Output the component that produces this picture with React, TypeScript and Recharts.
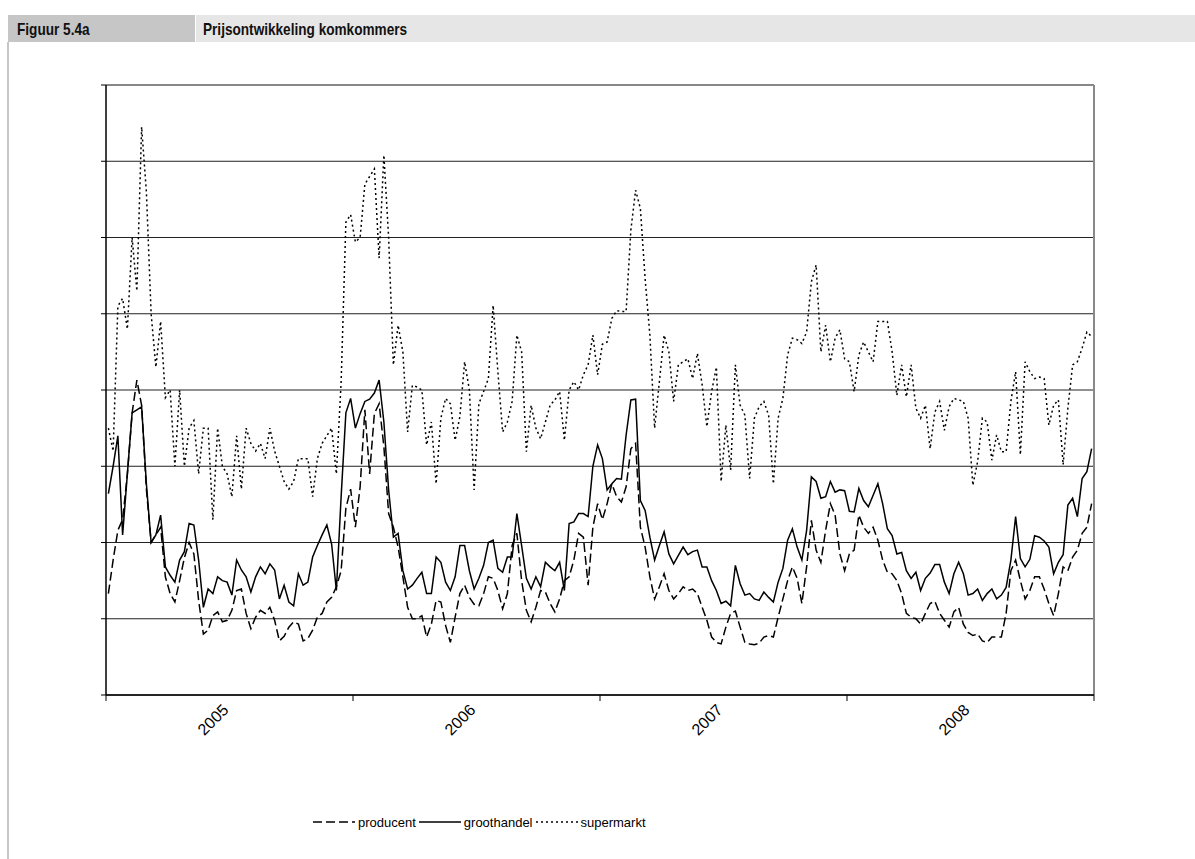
import { LineChart, Line, XAxis, YAxis, ReferenceLine } from "recharts";

// wekelijkse prijzen (euro per stuk), 2005 t/m 2008
const years = ["2005", "2006", "2007", "2008"];
const yTicks = [0, 0.1, 0.2, 0.3, 0.4, 0.5, 0.6, 0.7, 0.8];

const producent = [
  // 2005
  .133, .177, .216, .23, .29, .37, .413, .38, .27, .20, .21, .22, .155, .133, .122, .15, .18, .20, .185, .124, .08, .085, .104, .109, .096, .098,
  .111, .137, .139, .107, .087, .102, .111, .107, .115, .098, .071, .077, .089, .096, .093, .071, .074, .085, .102, .107, .122, .128, .142, .163, .245, .27,
  // 2006
  .22, .273, .374, .29, .369, .382, .326, .238, .22, .194, .155, .115, .10, .10, .104, .076, .093, .124, .122, .091, .069, .102, .133, .144, .128, .119,
  .117, .133, .155, .153, .137, .113, .133, .196, .212, .15, .111, .096, .115, .137, .135, .12, .109, .126, .15, .155, .177, .212, .207, .144, .22, .251,
  // 2007
  .23, .251, .277, .26, .253, .273, .323, .33, .22, .194, .155, .126, .142, .159, .137, .126, .133, .142, .137, .139, .133, .115, .098, .076, .069, .067,
  .089, .107, .11, .089, .069, .067, .066, .068, .076, .078, .076, .102, .126, .15, .168, .153, .12, .168, .229, .19, .174, .216, .251, .236, .185, .163,
  // 2008
  .185, .19, .236, .22, .212, .22, .203, .177, .161, .159, .15, .133, .107, .102, .10, .093, .107, .12, .123, .107, .098, .089, .109, .115, .093, .082,
  .078, .08, .071, .069, .076, .076, .076, .107, .163, .177, .15, .126, .137, .155, .155, .139, .12, .104, .133, .168, .163, .181, .19, .212, .22, .251,
];

const groothandel = [
  // 2005
  .264, .30, .34, .21, .29, .37, .374, .378, .277, .20, .21, .236, .168, .157, .148, .177, .188, .225, .223, .177, .115, .139, .133, .155, .15, .148,
  .131, .177, .164, .155, .135, .155, .168, .159, .172, .164, .126, .144, .122, .117, .159, .144, .148, .181, .196, .21, .223, .198, .137, .26, .37, .389,
  // 2006
  .35, .369, .385, .388, .396, .413, .358, .269, .207, .212, .163, .139, .144, .153, .161, .133, .133, .181, .174, .148, .137, .155, .196, .196, .163, .139,
  .153, .17, .20, .203, .166, .161, .181, .181, .238, .196, .153, .139, .155, .142, .174, .168, .163, .174, .137, .225, .227, .238, .238, .234, .30, .328,
  // 2007
  .31, .269, .277, .284, .283, .341, .387, .388, .255, .242, .207, .177, .196, .214, .185, .172, .183, .194, .184, .188, .19, .168, .168, .15, .137, .12,
  .123, .117, .17, .146, .131, .133, .126, .124, .135, .128, .122, .148, .166, .203, .218, .194, .177, .216, .286, .28, .258, .26, .28, .266, .269, .268,
  // 2008
  .241, .24, .271, .255, .247, .262, .277, .251, .218, .209, .185, .187, .163, .153, .161, .137, .153, .16, .171, .171, .148, .133, .159, .174, .159, .131,
  .133, .139, .124, .133, .139, .126, .131, .141, .177, .234, .179, .168, .178, .209, .207, .202, .194, .159, .174, .184, .249, .258, .234, .284, .293, .323,
];

const supermarkt = [
  // 2005
  .35, .32, .51, .52, .48, .60, .53, .745, .66, .50, .43, .49, .39, .40, .30, .40, .30, .35, .36, .29, .35, .35, .23, .35, .30, .29,
  .26, .34, .27, .35, .33, .32, .33, .31, .35, .32, .30, .28, .27, .28, .31, .31, .31, .26, .31, .33, .34, .35, .29, .41, .62, .63,
  // 2006
  .594, .60, .67, .68, .69, .573, .708, .60, .433, .485, .45, .345, .406, .404, .40, .328, .358, .277, .363, .389, .382, .334, .365, .437, .40, .269,
  .382, .398, .415, .511, .424, .345, .358, .385, .472, .45, .319, .38, .35, .336, .358, .38, .387, .398, .334, .40, .411, .40, .42, .433, .472, .42,
  // 2007
  .46, .463, .494, .504, .503, .503, .61, .662, .638, .546, .472, .35, .411, .472, .45, .385, .433, .437, .441, .415, .448, .407, .352, .398, .43, .28,
  .354, .295, .433, .38, .367, .284, .363, .378, .385, .367, .277, .363, .389, .446, .468, .466, .461, .476, .542, .564, .45, .485, .437, .468, .479, .441,
  // 2008
  .437, .398, .446, .463, .45, .437, .49, .49, .49, .45, .393, .433, .391, .433, .376, .363, .38, .323, .371, .385, .347, .378, .389, .387, .385, .363,
  .275, .306, .363, .358, .308, .341, .319, .319, .385, .424, .315, .437, .424, .415, .417, .415, .354, .38, .387, .302, .376, .433, .437, .455, .476, .47,
];

const WEEKS = 52;
const data = producent.map((p, i) => ({
  x: i + 0.5,
  producent: p,
  groothandel: groothandel[i],
  supermarkt: supermarkt[i],
}));

const yearTicks = years.map((_, i) => i * WEEKS).concat(years.length * WEEKS);

const PLOT_W = 988;
const HALF_YEAR = PLOT_W / years.length / 2;
const FONT = "'Liberation Sans', Arial, sans-serif";

function YearTick({ x, y, payload }: any) {
  const idx = Math.round(payload.value / WEEKS);
  if (idx >= years.length) return null;
  const tx = x + HALF_YEAR;
  const ty = y + 8;
  return (
    <text
      x={tx}
      y={ty}
      transform={`rotate(-45 ${tx} ${ty})`}
      textAnchor="end"
      fontSize={16}
      fontFamily={FONT}
      fill="#000"
    >
      {years[idx]}
    </text>
  );
}

const legendItems = [
  { name: "producent", dash: "9 4" },
  { name: "groothandel", dash: undefined },
  { name: "supermarkt", dash: "2 3" },
];

const headText = {
  position: "absolute" as const,
  top: 15,
  height: 27,
  lineHeight: "29px",
  fontFamily: FONT,
  fontWeight: 700,
  fontSize: 17,
  color: "#111",
  transform: "scaleX(0.8)",
  transformOrigin: "left center",
  whiteSpace: "nowrap" as const,
};

export default function App() {
  return (
    <div style={{ position: "relative", width: 1195, height: 859, background: "#fff", overflow: "hidden" }}>
      <style>{`body{margin:0}`}</style>

      {/* kop */}
      <div style={{ position: "absolute", left: 8, top: 15, width: 187, height: 27, background: "#c6c6c6" }} />
      <div style={{ position: "absolute", left: 196, top: 15, width: 999, height: 27, background: "#e6e6e6" }} />
      <div style={{ ...headText, left: 17 }}>Figuur 5.4a</div>
      <div style={{ ...headText, left: 203 }}>Prijsontwikkeling komkommers</div>
      <div style={{ position: "absolute", left: 7, top: 42, width: 2, height: 817, background: "#c6c6c6" }} />

      <div style={{ position: "absolute", left: 0, top: 0 }}>
        <LineChart width={1195} height={859} data={data} margin={{ top: 85, right: 101, bottom: 104, left: 96 }}>
          {yTicks.map((v) => (
            <ReferenceLine
              key={v}
              y={v}
              stroke={v === 0.8 ? "#888" : "#222"}
              strokeWidth={v === 0.8 ? 2 : 1}
            />
          ))}
          <ReferenceLine x={years.length * WEEKS} stroke="#888" strokeWidth={2} />
          <XAxis
            type="number"
            dataKey="x"
            domain={[0, years.length * WEEKS]}
            ticks={yearTicks}
            interval={0}
            height={60}
            tickSize={6}
            axisLine={{ stroke: "#000", strokeWidth: 1.5 }}
            tickLine={{ stroke: "#000" }}
            tick={<YearTick />}
          />
          <YAxis
            type="number"
            domain={[0, 0.8]}
            ticks={yTicks}
            interval={0}
            width={10}
            tickSize={5}
            tick={() => null}
            axisLine={{ stroke: "#000", strokeWidth: 1.5 }}
            tickLine={{ stroke: "#000" }}
          />
          <Line
            dataKey="supermarkt"
            stroke="#000"
            strokeWidth={1.5}
            strokeDasharray="2 3"
            dot={false}
            isAnimationActive={false}
          />
          <Line
            dataKey="producent"
            stroke="#000"
            strokeWidth={1.5}
            strokeDasharray="9 4"
            dot={false}
            isAnimationActive={false}
          />
          <Line
            dataKey="groothandel"
            stroke="#000"
            strokeWidth={1.5}
            dot={false}
            isAnimationActive={false}
          />
        </LineChart>
      </div>

      {/* legenda */}
      <div
        style={{
          position: "absolute", left: 313, top: 814, display: "flex", alignItems: "center",
          fontFamily: FONT, fontSize: 13, color: "#000",
        }}
      >
        {legendItems.map((it) => (
          <div key={it.name} style={{ display: "flex", alignItems: "center", marginRight: 3 }}>
            <svg width={42} height={16}>
              <line x1={0} y1={8} x2={42} y2={8} stroke="#000" strokeWidth={1.5} strokeDasharray={it.dash} />
            </svg>
            <span style={{ marginLeft: 3 }}>{it.name}</span>
          </div>
        ))}
      </div>
    </div>
  );
}
